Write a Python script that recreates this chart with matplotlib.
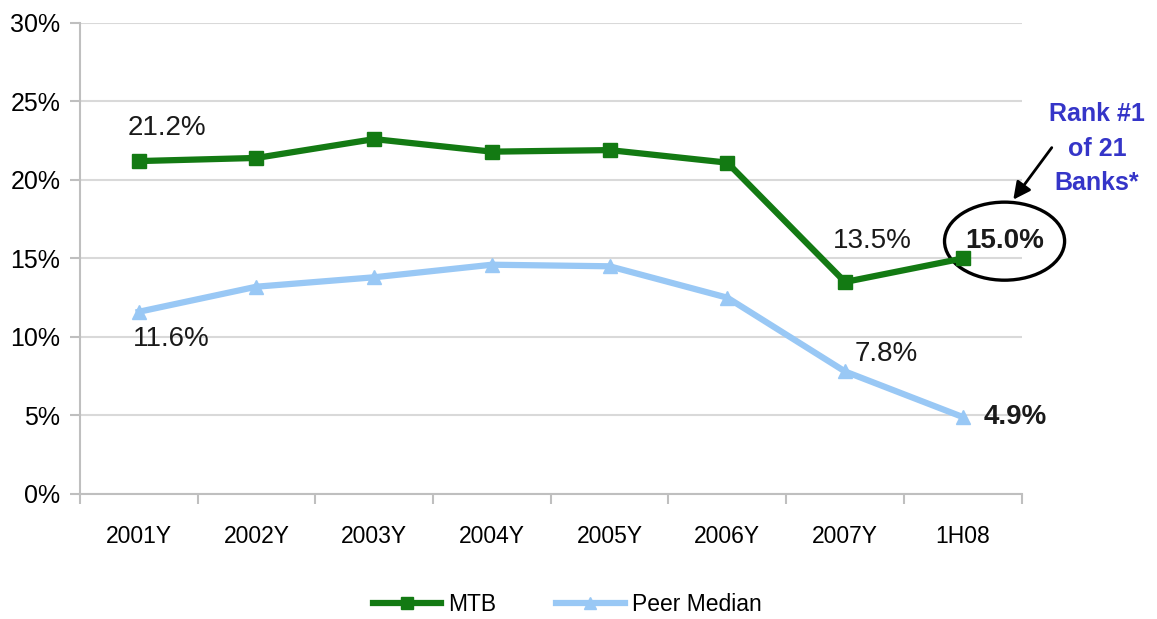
import matplotlib.pyplot as plt
from matplotlib.patches import Ellipse
import numpy as np

plt.rcParams['font.family'] = ['Liberation Sans', 'DejaVu Sans']

categories = ['2001Y', '2002Y', '2003Y', '2004Y', '2005Y', '2006Y', '2007Y', '1H08']
mtb = [21.2, 21.4, 22.6, 21.8, 21.9, 21.1, 13.5, 15.0]
peer = [11.6, 13.2, 13.8, 14.6, 14.5, 12.5, 7.8, 4.9]
y_ticks = [0, 5, 10, 15, 20, 25, 30]

green = '#137a13'
blue = '#99c8f5'
grid = '#d9d9d9'

fig = plt.figure(figsize=(11.57, 6.19), dpi=100)
ax = fig.add_axes([0.069, 0.202, 0.814, 0.761])

x = np.arange(len(categories))
ax.plot(x, mtb, color=green, lw=4.5, marker='s', ms=10, label='MTB', zorder=3)
ax.plot(x, peer, color=blue, lw=4.5, marker='^', ms=10, label='Peer Median', zorder=3)

ax.set_xlim(-0.5, len(categories) - 0.5)
ax.set_ylim(0, 30)
ax.set_yticks(y_ticks)
ax.set_yticklabels(['%d%%' % v for v in y_ticks])
ax.set_xticks(x)
ax.set_xticklabels(categories)
ax.set_xticks(np.arange(-0.5, len(categories)), minor=True)
ax.tick_params(axis='x', which='major', length=0, pad=22, labelsize=16.5)
ax.tick_params(axis='x', which='minor', length=7, color='#bfbfbf', width=1.5)
ax.tick_params(axis='y', length=7, color='#bfbfbf', width=1.5, labelsize=18, pad=7)
ax.grid(axis='y', color=grid, lw=1.5)
ax.set_axisbelow(True)
for s in ['top', 'right']:
    ax.spines[s].set_visible(False)
for s in ['left', 'bottom']:
    ax.spines[s].set_color('#bfbfbf')
    ax.spines[s].set_linewidth(1.5)

# data labels
lbl = dict(fontsize=20, color='#1a1a1a', ha='center', va='center')
ax.text(0.24, 23.3, '%.1f%%' % mtb[0], **lbl)
ax.text(0.28, 9.9, '%.1f%%' % peer[0], **lbl)
ax.text(6.23, 16.1, '%.1f%%' % mtb[6], **lbl)
ax.text(6.35, 8.9, '%.1f%%' % peer[6], **lbl)
ax.text(7.36, 16.1, '%.1f%%' % mtb[7], fontweight='bold', clip_on=False, **lbl)
ax.text(7.45, 4.9, '%.1f%%' % peer[7], fontweight='bold', clip_on=False, **lbl)

ax.add_patch(Ellipse((7.355, 16.1), 1.02, 4.97, fill=False, ec='black', lw=2.4, clip_on=False))
ax.annotate('', xy=(7.415, 18.6), xytext=(7.77, 22.2),
            arrowprops=dict(arrowstyle='-|>', color='black', lw=2, mutation_scale=26),
            annotation_clip=False)
ax.text(8.14, 22.0, 'Rank #1\nof 21\nBanks*', color='#3535c8', fontweight='bold',
        fontsize=18, ha='center', va='center', linespacing=1.55, clip_on=False)

fig.legend(loc='center', bbox_to_anchor=(0.49, 0.024), ncol=2, frameon=False,
           fontsize=16.5, handlelength=3.0, columnspacing=2.6, handletextpad=0.3,
           markerscale=0.8)

fig.savefig('out.png', dpi=100)
